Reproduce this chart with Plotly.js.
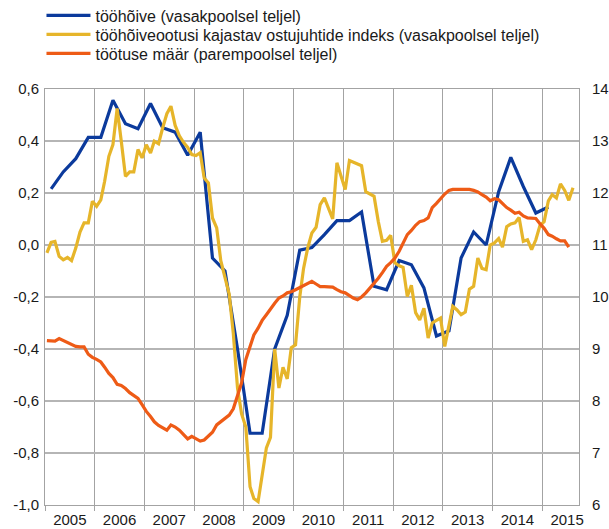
<!DOCTYPE html>
<html>
<head>
<meta charset="utf-8">
<script src="https://cdn.plot.ly/plotly-3.0.1.min.js"></script>
<style>html,body{margin:0;padding:0;background:#fff;}#chart{width:609px;height:529px;}</style>
</head>
<body>
<div id="chart"></div>
<script>
// ---- Data ----
var seriesNames = [
  "tööhõive (vasakpoolsel teljel)",
  "tööhõiveootusi kajastav ostujuhtide indeks (vasakpoolsel teljel)",
  "töötuse määr (parempoolsel teljel)"
];

// Quarterly employment growth (2005 Q1 – 2015 Q1), left axis
var employmentStart = [2005, 1];
var employment = [
  0.216, 0.281, 0.332, 0.414,
  0.414, 0.557, 0.466, 0.447,
  0.544, 0.451, 0.434, 0.345,
  0.434, -0.05, -0.10, -0.40,
  -0.724, -0.724, -0.40, -0.27,
  -0.02, -0.01, 0.04, 0.094,
  0.094, 0.127, -0.159, -0.172,
  -0.06, -0.076, -0.165, -0.35,
  -0.33, -0.05, 0.05, 0.0,
  0.205, 0.337, 0.225, 0.123,
  0.146
];

// Monthly PMI employment expectations (Jan 2005 – Aug 2015), left axis
var pmiStart = [2005, 1];
var pmi = [
  -0.03, 0.010, 0.014, -0.044, -0.057, -0.048, -0.060, -0.012, 0.05, 0.085, 0.085, 0.168,
  0.149, 0.174, 0.245, 0.341, 0.386, 0.525, 0.40, 0.264, 0.281, 0.281, 0.367, 0.335,
  0.386, 0.354, 0.399, 0.389, 0.45, 0.505, 0.534, 0.46, 0.42, 0.395, 0.375, 0.348,
  0.344, 0.355, 0.258, 0.239, 0.104, 0.066, -0.06, -0.12, -0.19, -0.34, -0.55, -0.65,
  -0.70, -0.93, -0.975, -0.987, -0.88, -0.78, -0.74, -0.40, -0.55, -0.47, -0.515, -0.395,
  -0.384, -0.20, -0.09, -0.01, 0.046, 0.068, 0.155, 0.181, 0.14, 0.10, 0.316, 0.26,
  0.213, 0.325, 0.318, 0.312, 0.305, 0.205, 0.195, 0.187, 0.09, 0.014, 0.018, 0.037,
  -0.069, -0.08, -0.086, -0.198, -0.155, -0.26, -0.288, -0.243, -0.358, -0.30, -0.29, -0.281,
  -0.39, -0.30, -0.236, -0.25, -0.268, -0.258, -0.17, -0.159, -0.05, -0.09, -0.095, 0.0,
  0.008, 0.025, -0.008, 0.07, 0.081, 0.085, 0.106, 0.014, 0.02, -0.018, 0.02, 0.075,
  0.09, 0.17, 0.194, 0.181, 0.235, 0.21, 0.172, 0.22
];

// Monthly unemployment rate (Jan 2005 – Jul 2015), right axis
var unempStart = [2005, 1];
var unemployment = [
  9.16, 9.15, 9.15, 9.20, 9.16, 9.12, 9.09, 9.05, 9.04, 9.04, 8.90, 8.84,
  8.80, 8.75, 8.65, 8.53, 8.45, 8.32, 8.30, 8.24, 8.16, 8.10, 8.05, 7.93,
  7.80, 7.70, 7.60, 7.53, 7.48, 7.44, 7.54, 7.50, 7.44, 7.36, 7.27, 7.32,
  7.28, 7.23, 7.25, 7.32, 7.40, 7.54, 7.60, 7.66, 7.73, 7.85, 8.10, 8.35,
  8.80, 9.05, 9.27, 9.40, 9.55, 9.66, 9.78, 9.88, 9.98, 10.02, 10.08, 10.10,
  10.14, 10.18, 10.22, 10.25, 10.30, 10.25, 10.20, 10.20, 10.20, 10.19, 10.14, 10.10,
  10.08, 10.02, 9.98, 9.95, 10.00, 10.08, 10.17, 10.26, 10.36, 10.47, 10.59, 10.66,
  10.75, 10.88, 11.04, 11.20, 11.28, 11.38, 11.45, 11.47, 11.52, 11.72, 11.80, 11.90,
  11.98, 12.05, 12.07, 12.07, 12.07, 12.07, 12.07, 12.05, 12.02, 11.97, 11.92, 11.85,
  11.89, 11.87, 11.80, 11.72, 11.67, 11.61, 11.63, 11.56, 11.52, 11.52, 11.51, 11.41,
  11.32, 11.20, 11.17, 11.12, 11.08, 11.08, 10.96
];

var leftTickVals = [-1.0, -0.8, -0.6, -0.4, -0.2, 0.0, 0.2, 0.4, 0.6];
var leftTickText = ["-1,0", "-0,8", "-0,6", "-0,4", "-0,2", "0,0", "0,2", "0,4", "0,6"];
var rightTickVals = [6, 7, 8, 9, 10, 11, 12, 13, 14];
var rightTickText = ["6", "7", "8", "9", "10", "11", "12", "13", "14"];

var colors = ["#0b3a9c", "#e6b52a", "#ee5b16"];

// ---- Date helpers (mid-month / mid-quarter positions) ----
function pad(n) { return (n < 10 ? "0" : "") + n; }
function monthlyDates(start, n) {
  var out = [];
  for (var i = 0; i < n; i++) {
    var t = start[0] * 12 + (start[1] - 1) + i;
    out.push(Math.floor(t / 12) + "-" + pad(t % 12 + 1) + "-15");
  }
  return out;
}
function quarterlyDates(start, n) {
  var out = [];
  for (var i = 0; i < n; i++) {
    var q = (start[1] - 1) + i;
    var y = start[0] + Math.floor(q / 4);
    var m = (q % 4) * 3 + 2;
    out.push(y + "-" + pad(m) + "-15");
  }
  return out;
}

var traces = [
  {
    x: quarterlyDates(employmentStart, employment.length), y: employment,
    name: seriesNames[0], type: "scatter", mode: "lines",
    line: { color: colors[0], width: 3.2 }, yaxis: "y", legend: "legend"
  },
  {
    x: monthlyDates(pmiStart, pmi.length), y: pmi,
    name: seriesNames[1], type: "scatter", mode: "lines",
    line: { color: colors[1], width: 3.2 }, yaxis: "y", legend: "legend2"
  },
  {
    x: monthlyDates(unempStart, unemployment.length), y: unemployment,
    name: seriesNames[2], type: "scatter", mode: "lines",
    line: { color: colors[2], width: 3.2 }, yaxis: "y2", legend: "legend3"
  }
];

var gridCol = "#a3a3a3";
function legendAt(yPaper) {
  return {
    x: -0.0066, xanchor: "left", y: yPaper, yanchor: "middle",
    font: { size: 16, color: "#1a1a1a" }, itemwidth: 44,
    bgcolor: "rgba(0,0,0,0)", borderwidth: 0
  };
}
var layout = {
  width: 609, height: 529,
  margin: { l: 45, r: 30, t: 89, b: 24, pad: 0, autoexpand: false },
  paper_bgcolor: "#ffffff", plot_bgcolor: "#ffffff",
  font: { family: "Liberation Sans, Arial, sans-serif", size: 15, color: "#1a1a1a" },
  showlegend: true,
  legend: legendAt(1.1769),
  legend2: legendAt(1.1312),
  legend3: legendAt(1.0855),
  xaxis: {
    type: "date", range: ["2005-01-01", "2015-09-28"],
    tick0: "2005-01-01", dtick: "M12", tickformat: "%Y", ticklabelmode: "period",
    showgrid: true, gridcolor: gridCol, gridwidth: 1,
    ticks: "outside", ticklen: 5, tickcolor: gridCol,
    showline: true, linecolor: gridCol, mirror: true, zeroline: false,
    ticklabelstandoff: -4, fixedrange: true
  },
  yaxis: {
    range: [-1.0, 0.6], tickvals: leftTickVals, ticktext: leftTickText,
    showgrid: true, gridcolor: "#b5b5b5", gridwidth: 1.5, zeroline: false,
    showline: true, linecolor: gridCol, mirror: false, ticks: "",
    ticklabelstandoff: 2
  },
  yaxis2: {
    range: [6, 14], tickvals: rightTickVals, ticktext: rightTickText,
    overlaying: "y", side: "right", showgrid: false, zeroline: false,
    showline: true, linecolor: gridCol, ticks: "", ticklabelstandoff: 9
  }
};

Plotly.newPlot("chart", traces, layout, { staticPlot: true, displayModeBar: false });
</script>
</body>
</html>
